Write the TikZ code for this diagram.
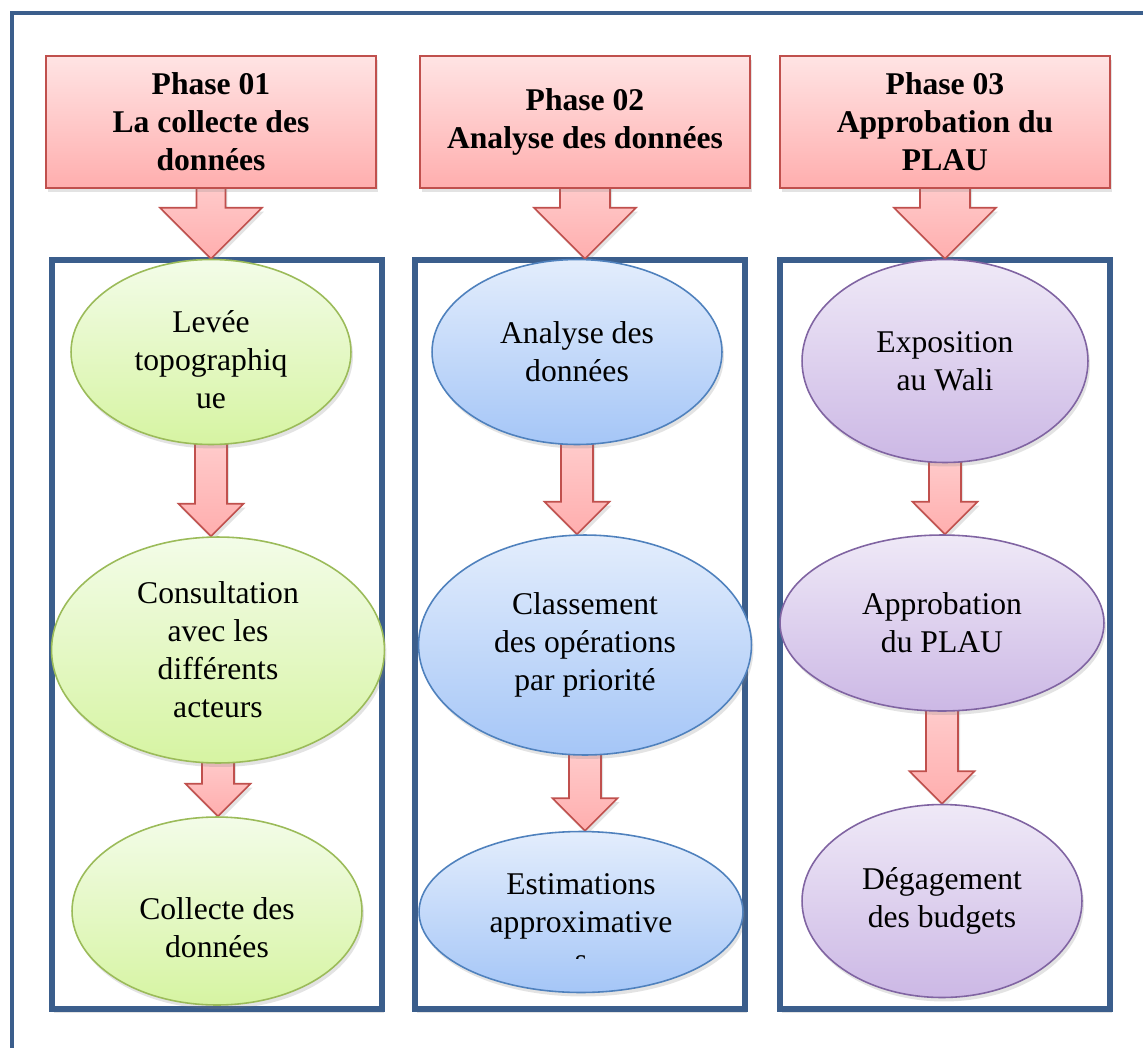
\documentclass[tikz,border=0pt]{standalone}
\usepackage{fontspec}
\setmainfont{Liberation Serif}
\usetikzlibrary{calc,shapes.geometric,shadows}
\pgfdeclarelayer{fond}
\pgfsetlayers{fond,main}
\definecolor{bleucadre}{HTML}{3B5E8C}
\definecolor{rosehaut}{HTML}{FFE4E4}
\definecolor{rosebas}{HTML}{FFAEAE}
\definecolor{rougebord}{HTML}{C0504D}
\definecolor{verthaut}{HTML}{F3FCE8}
\definecolor{vertbas}{HTML}{D6F4A2}
\definecolor{vertbord}{HTML}{9BBB59}
\definecolor{bleuhaut}{HTML}{E3EDFC}
\definecolor{bleubas}{HTML}{A5C6F7}
\definecolor{bleubord}{HTML}{4F81BD}
\definecolor{violethaut}{HTML}{EFE9F7}
\definecolor{violetbas}{HTML}{CCB8E5}
\definecolor{violetbord}{HTML}{8064A2}
\tikzset{
  ombre/.style={drop shadow={opacity=0.22,shadow xshift=0.4mm,shadow yshift=-0.8mm}},
  texte/.style={align=center,font=\fontsize{18}{21.6}\selectfont},
  entete/.style={texte,font=\fontsize{18}{21.6}\selectfont\bfseries,draw=rougebord,line width=1pt,
    top color=rosehaut,bottom color=rosebas,minimum width=6.6cm,minimum height=2.64cm,ombre},
  bulle/.style={texte,ellipse,inner sep=0pt,line width=0.9pt,ombre},
  ellvert/.style={bulle,draw=vertbord,top color=verthaut,bottom color=vertbas},
  ellbleu/.style={bulle,draw=bleubord,top color=bleuhaut,bottom color=bleubas},
  ellviolet/.style={bulle,draw=violetbord,top color=violethaut,bottom color=violetbas},
  cadre/.style={draw=bleucadre,line width=3pt,fill=white,ombre},
  fleche/.style={draw=rougebord,line width=0.9pt,line join=miter,top color=rosehaut!60!rosebas,bottom color=rosebas,ombre}
}
\newcommand\grossefleche[4]{%
  \path[fleche] let \p1=(#1.south), \p2=(#2.north) in
    (\x1-#3,\y1+8pt) -- (\x1-#3,\y2+#4) -- (\x1-#4,\y2+#4) -- (\x1,\y2)
    -- (\x1+#4,\y2+#4) -- (\x1+#3,\y2+#4) -- (\x1+#3,\y1+8pt) -- cycle;}
\begin{document}
\begin{tikzpicture}[x=0.02cm,y=-0.02cm]
\useasboundingbox (0,0) rectangle (1143,1048);
\draw[bleucadre,line width=2.6pt] (1143,13) -- (12,13) -- (12,1048);

\node[entete] (h1) at (211,122) {Phase 01\\La collecte des\\données};
\node[entete] (h2) at (585,122) {Phase 02\\Analyse des données};
\node[entete] (h3) at (945,122) {Phase 03\\Approbation du\\PLAU};

\node[ellvert,minimum width=5.6cm,minimum height=3.7cm] (a1) at (211,352) {\mbox{}\\Levée\\topographiq\\ue};
\node[ellvert,minimum width=6.66cm,minimum height=4.52cm] (a2) at (218,650) {Consultation\\avec les\\différents\\acteurs};
\node[ellvert,minimum width=5.8cm,minimum height=3.76cm] (a3) at (217,911) {\mbox{}\\[10pt]Collecte des\\données};

\node[ellbleu,minimum width=5.8cm,minimum height=3.7cm] (b1) at (577,352) {Analyse des\\données};
\node[ellbleu,minimum width=6.66cm,minimum height=4.4cm] (b2) at (585,645) {Classement\\des opérations\\par priorité};
\node[ellbleu,minimum width=6.48cm,minimum height=3.22cm] (b3) at (581,912) {};
\begin{scope}
  \clip (400,820) rectangle (760,958);
  \node[texte] (b3t) at (581,922) {Estimations\\approximative\\s};
\end{scope}

\node[ellviolet,minimum width=5.72cm,minimum height=4.06cm] (c1) at (945,361) {Exposition\\au Wali};
\node[ellviolet,minimum width=6.48cm,minimum height=3.52cm] (c2) at (942,623) {Approbation\\du PLAU};
\node[ellviolet,minimum width=5.6cm,minimum height=3.86cm] (c3) at (942,901) {Dégagement\\des budgets};

\begin{pgfonlayer}{fond}
  \draw[cadre] (52,260) rectangle (382,1009);
  \draw[cadre] (415,260) rectangle (745,1009);
  \draw[cadre] (780,260) rectangle (1110,1009);
  \grossefleche{h1}{a1}{0.29cm}{1.02cm}
  \grossefleche{h2}{b1}{0.5cm}{1.02cm}
  \grossefleche{h3}{c1}{0.5cm}{1.02cm}
  \grossefleche{a1}{a2}{0.32cm}{0.65cm}
  \grossefleche{a2}{a3}{0.32cm}{0.65cm}
  \grossefleche{b1}{b2}{0.32cm}{0.65cm}
  \grossefleche{b2}{b3}{0.32cm}{0.65cm}
  \grossefleche{c1}{c2}{0.32cm}{0.65cm}
  \grossefleche{c2}{c3}{0.32cm}{0.65cm}
\end{pgfonlayer}
\end{tikzpicture}
\end{document}
